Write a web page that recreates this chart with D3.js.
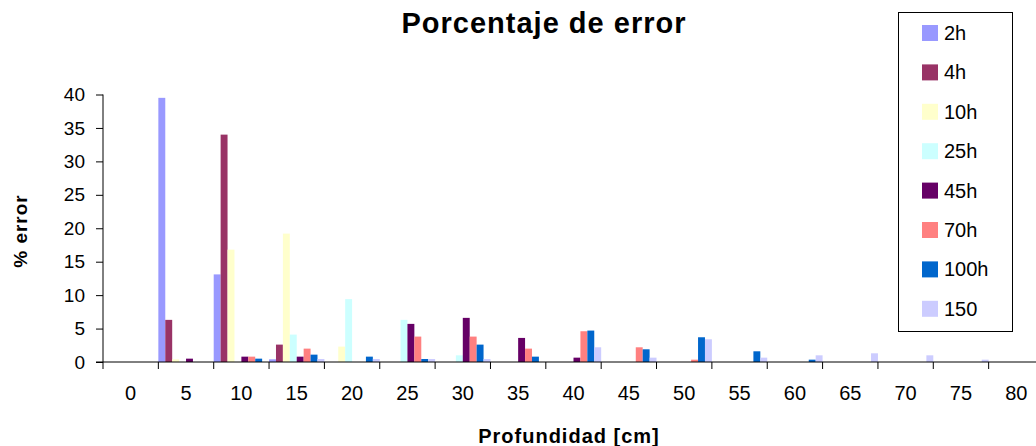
<!DOCTYPE html>
<html>
<head>
<meta charset="utf-8">
<script src="https://cdn.jsdelivr.net/npm/d3@7"></script>
<style>
  body { margin: 0; background: #fff; }
  text { font-family: "Liberation Sans", Arial, sans-serif; }
</style>
</head>
<body>
<script>
var categories = ["0", "5", "10", "15", "20", "25", "30", "35", "40", "45", "50", "55", "60", "65", "70", "75", "80"];
var seriesNames = ["2h", "4h", "10h", "25h", "45h", "70h", "100h", "150"];
var seriesColors = ["#9999FF", "#993366", "#FFFFCC", "#CCFFFF", "#660066", "#FF8080", "#0066CC", "#CCCCFF"];

var v2h   = [0, 39.5, 13.1, 0.4, 0, 0, 0, 0, 0, 0, 0, 0, 0, 0, 0, 0, 0];
var v4h   = [0, 6.3, 34.0, 2.6, 0, 0, 0, 0, 0, 0, 0, 0, 0, 0, 0, 0, 0];
var v10h  = [0, 0.4, 16.8, 19.2, 2.3, 0, 0, 0, 0, 0, 0, 0, 0, 0, 0, 0, 0];
var v25h  = [0, 0, 0, 4.1, 9.4, 6.3, 1.0, 0, 0, 0, 0, 0, 0, 0, 0, 0, 0];
var v45h  = [0, 0.5, 0.8, 0.8, 0, 5.7, 6.6, 3.6, 0.65, 0, 0, 0, 0, 0, 0, 0, 0];
var v70h  = [0, 0, 0.8, 2.0, 0, 3.8, 3.8, 2.0, 4.6, 2.2, 0.35, 0, 0, 0, 0, 0, 0];
var v100h = [0, 0, 0.5, 1.1, 0.8, 0.45, 2.6, 0.8, 4.7, 1.9, 3.7, 1.6, 0.35, 0, 0, 0, 0];
var v150  = [0, 0, 0, 0.45, 0.45, 0.45, 0.45, 0, 2.2, 0.65, 3.4, 0.65, 1.0, 1.3, 1.0, 0.35, 0];
var seriesValues = [v2h, v4h, v10h, v25h, v45h, v70h, v100h, v150];
var yTicks = [0, 5, 10, 15, 20, 25, 30, 35, 40];

var W = 1036, H = 446;
var svg = d3.select("body").append("svg")
  .attr("width", W).attr("height", H);

var x = d3.scaleBand().domain(categories).range([103, 1044]).padding(0);
var xs = d3.scaleBand().domain(seriesNames).range([0, x.bandwidth()]).padding(0);
var y = d3.scaleLinear().domain([0, 40]).range([362, 94.5]);

// bars
seriesNames.forEach(function(name, si) {
  svg.append("g").selectAll("rect")
    .data(seriesValues[si])
    .enter().append("rect")
    .attr("x", function(d, i) { return x(categories[i]) + xs(name); })
    .attr("y", function(d) { return y(d); })
    .attr("width", xs.bandwidth())
    .attr("height", function(d) { return y(0) - y(d); })
    .style("fill", seriesColors[si]);
});

// y axis
var yAxis = d3.axisLeft(y).tickValues(yTicks).tickSize(7).tickPadding(11);
var gy = svg.append("g").attr("transform", "translate(103,0)").call(yAxis);
gy.select(".domain").attr("d", "M0," + y(40) + "V" + y(0));
gy.selectAll("text").style("font-size", "19px").attr("fill", "#000");
gy.selectAll("line, path").attr("stroke", "#000");

// x axis line + ticks between categories
svg.append("line").attr("x1", 96).attr("x2", W).attr("y1", y(0)).attr("y2", y(0)).attr("stroke", "#000");
var bounds = categories.map(function(c) { return x(c); }).concat([x.range()[1]]);
svg.append("g").selectAll("line").data(bounds).enter().append("line")
  .attr("x1", function(d) { return d; }).attr("x2", function(d) { return d; })
  .attr("y1", y(0)).attr("y2", y(0) + 7).attr("stroke", "#000");
svg.append("g").selectAll("text").data(categories).enter().append("text")
  .attr("x", function(d) { return x(d) + x.bandwidth() / 2; })
  .attr("y", 400)
  .attr("text-anchor", "middle")
  .style("font-size", "20px")
  .text(function(d) { return d; });

// titles
svg.append("text").attr("x", 544).attr("y", 33).attr("text-anchor", "middle")
  .style("font-size", "29px").style("font-weight", "bold").style("letter-spacing", "1px")
  .text("Porcentaje de error");
svg.append("text").attr("x", 569).attr("y", 443).attr("text-anchor", "middle")
  .style("font-size", "20px").style("font-weight", "bold").style("letter-spacing", "1px")
  .text("Profundidad [cm]");
svg.append("text").attr("transform", "translate(27,231) rotate(-90)").attr("text-anchor", "middle")
  .style("font-size", "19px").style("font-weight", "bold").style("letter-spacing", "1px")
  .text("% error");

// legend
var lg = svg.append("g");
lg.append("rect").attr("x", 898.5).attr("y", 12.5).attr("width", 114).attr("height", 319)
  .attr("fill", "#fff").attr("stroke", "#000");
seriesNames.forEach(function(name, i) {
  var cy = 33 + i * 39.4;
  lg.append("rect").attr("x", 922).attr("y", cy - 8).attr("width", 16).attr("height", 16)
    .style("fill", seriesColors[i]);
  lg.append("text").attr("x", 944).attr("y", cy + 7).style("font-size", "20px").text(name);
});
</script>
</body>
</html>
